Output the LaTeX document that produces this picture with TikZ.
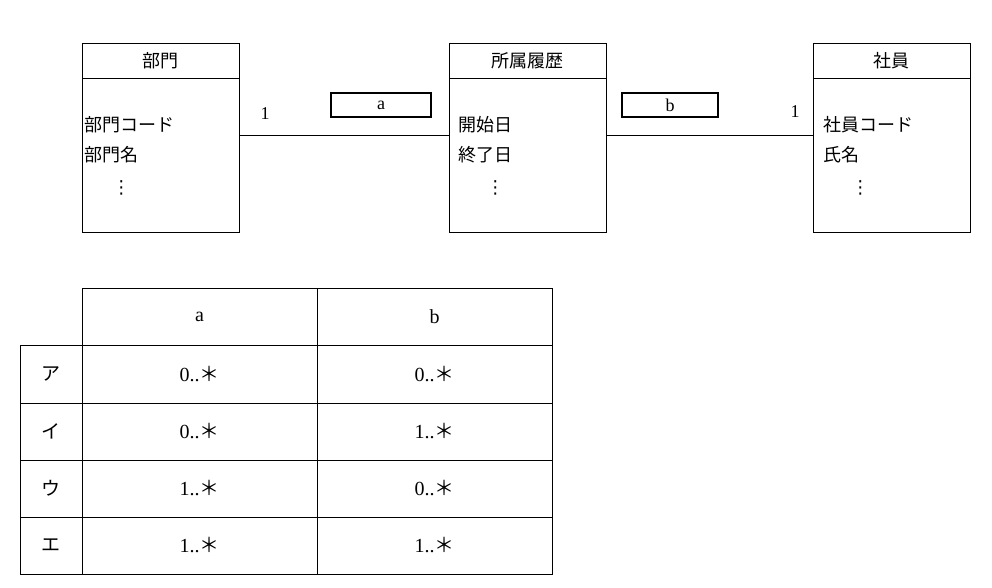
\documentclass[tikz,border=0pt]{standalone}
\usepackage{fontspec}
\setmainfont{Liberation Serif}
\newfontfamily\jp{Noto Sans CJK JP}
\newfontfamily\dv{DejaVu Sans}
\begin{document}
\begin{tikzpicture}[x=1pt,y=-1pt,line width=0.9pt,
  lbl/.style={font=\jp\fontsize{18}{20}\selectfont,inner sep=0pt},
  attr/.style={font=\jp\fontsize{18}{20}\selectfont,inner sep=0pt,anchor=west,align=left},
  mult/.style={draw,line width=2pt,minimum width=100pt,minimum height=24pt,inner sep=0pt,font=\fontsize{18}{20}\selectfont},
  cell/.style={font=\fontsize{20}{22}\selectfont,inner sep=0pt}]
\useasboundingbox (0,0) rectangle (992,588);
% classes
\foreach \n/\x/\t in {dept/82/部門,hist/449/所属履歴,emp/813/社員}{
  \draw (\x,43) rectangle (\x+157,232);
  \draw (\x,78) -- (\x+157,78);
  \node[lbl] (\n) at (\x+78.5,61) {\t};
  \coordinate (\n L) at (\x,135);
  \coordinate (\n R) at (\x+157,135);
}
\node[attr] at (84,125) {部門コード};
\node[attr] at (84,155) {部門名};
\node[attr,font=\dv\fontsize{18}{20}\selectfont] at (112,188) {⋮};
\node[attr] at (458,125) {開始日};
\node[attr] at (458,155) {終了日};
\node[attr,font=\dv\fontsize{18}{20}\selectfont] at (486,188) {⋮};
\node[attr] at (823,125) {社員コード};
\node[attr] at (823,155) {氏名};
\node[attr,font=\dv\fontsize{18}{20}\selectfont] at (851,188) {⋮};
\draw (deptR) -- (histL);
\draw (histR) -- (empL);
\node[lbl,font=\fontsize{18}{20}\selectfont] at (265,114) {1};
\node[lbl,font=\fontsize{18}{20}\selectfont] at (795,112) {1};
\node[mult] (a) at (381,105) {a};
\node[mult,minimum width=96pt] (b) at (670,105) {b};
% table
\draw (82,288) rectangle (552,574);
\draw (20,345) rectangle (552,574);
\foreach \y in {403,460,517} \draw (20,\y) -- (552,\y);
\draw (82,288) -- (82,574);
\draw (317,288) -- (317,574);
\node[cell] at (199.5,317) {a};
\node[cell] at (434.5,317) {b};
\foreach \k/\y in {ア/374,イ/431,ウ/488,エ/545}{
  \node[cell,font=\jp\fontsize{19}{21}\selectfont] at (51,\y) {\k};
}
\foreach \y/\p/\q in {374/0/0,431/0/1,488/1/0,545/1/1}{
  \node[cell] at (199.5,\y) {\p..{\jp＊}};
  \node[cell] at (434.5,\y) {\q..{\jp＊}};
}
\end{tikzpicture}
\end{document}
